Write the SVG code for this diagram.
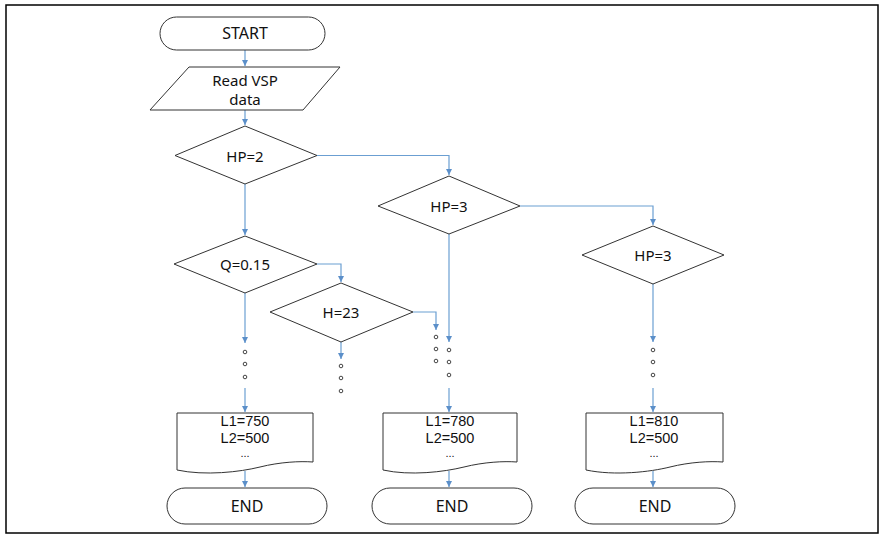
<svg xmlns="http://www.w3.org/2000/svg" width="882" height="539" viewBox="0 0 882 539">
<defs>
<marker id="ah" markerWidth="8" markerHeight="8" refX="6" refY="3" orient="auto" markerUnits="userSpaceOnUse">
<path d="M0,0 L6,3 L0,6 Z" fill="#5b8fc9"/>
</marker>
<style>
.sh{fill:#fff;stroke:#333;stroke-width:1}
.t{font-family:"Noto Sans","Liberation Sans",sans-serif;font-size:15px;fill:#111;text-anchor:middle;dominant-baseline:central}
.dt{font-family:"Liberation Sans","Noto Sans",sans-serif;font-size:14.5px}
.c{fill:none;stroke:#6b9fd2;stroke-width:1.2}
.a{marker-end:url(#ah)}
.d{fill:#fff;stroke:#444;stroke-width:1}
</style>
</defs>
<rect x="0" y="0" width="882" height="539" fill="#fff"/>
<rect x="6" y="5" width="872" height="528" fill="none" stroke="#000" stroke-width="1.5"/>

<g id="connectors">
<path class="c a" d="M245,50 V66"/>
<path class="c a" d="M245,110 V125"/>
<path class="c a" d="M317,155.5 H449 V175"/>
<path class="c a" d="M520,206 H653 V225"/>
<path class="c a" d="M245,184 V235"/>
<path class="c a" d="M317,264 H341 V282"/>
<path class="c a" d="M413,312 H436 V330"/>
<path class="c a" d="M341,342 V359"/>
<path class="c a" d="M245,293 V343"/>
<path class="c a" d="M449,234 V342"/>
<path class="c a" d="M653,284 V342"/>
<path class="c a" d="M245,388 V412"/>
<path class="c a" d="M449,388 V412"/>
<path class="c a" d="M653,388 V412"/>
<path class="c a" d="M245,471 V487"/>
<path class="c a" d="M449,471 V487"/>
<path class="c a" d="M653,471 V487"/>
</g>

<g id="dots">
<circle class="d" cx="245" cy="352" r="1.8"/><circle class="d" cx="245" cy="364" r="1.8"/><circle class="d" cx="245" cy="377" r="1.8"/>
<circle class="d" cx="341" cy="366" r="1.8"/><circle class="d" cx="341" cy="378" r="1.8"/><circle class="d" cx="341" cy="391" r="1.8"/>
<circle class="d" cx="436" cy="337" r="1.8"/><circle class="d" cx="436" cy="349" r="1.8"/><circle class="d" cx="436" cy="361" r="1.8"/>
<circle class="d" cx="449" cy="350" r="1.8"/><circle class="d" cx="449" cy="362" r="1.8"/><circle class="d" cx="449" cy="375" r="1.8"/>
<circle class="d" cx="653" cy="350" r="1.8"/><circle class="d" cx="653" cy="362" r="1.8"/><circle class="d" cx="653" cy="375" r="1.8"/>
</g>

<g id="start">
<rect class="sh" x="160" y="17" width="165" height="33" rx="16.5"/>
<text class="t" x="245" y="33" style="font-size:16px">START</text>
</g>
<g id="read">
<path class="sh" d="M189,67 H340 L303,110 H150 Z"/>
<text class="t" x="245" y="80">Read VSP</text>
<text class="t" x="245" y="99">data</text>
</g>
<g id="hp2">
<path class="sh" d="M245,126 L317,155.5 L245,184 L175,155.5 Z"/>
<text class="t" x="245" y="155.5">HP=2</text>
</g>
<g id="hp3a">
<path class="sh" d="M449,176 L520,206 L449,234 L378,206 Z"/>
<text class="t" x="449" y="206">HP=3</text>
</g>
<g id="hp3b">
<path class="sh" d="M653,226 L724,255 L653,284 L582,255 Z"/>
<text class="t" x="653" y="255">HP=3</text>
</g>
<g id="q">
<path class="sh" d="M245,236 L317,264 L245,293 L174,264 Z"/>
<text class="t" x="245" y="264">Q=0.15</text>
</g>
<g id="h">
<path class="sh" d="M341,283 L413,312 L341,342 L270,312 Z"/>
<text class="t" x="341" y="312">H=23</text>
</g>

<g id="doc1">
<path class="sh" d="M177,413 H313 V462 C300,461 280,462 260,467 C240,472 205,476 177,470 Z"/>
<text class="t dt" x="245" y="421">L1=750</text>
<text class="t dt" x="245" y="437.5">L2=500</text>
<text class="t dt" x="245" y="453" style="font-size:11px">...</text>
</g>
<g id="doc2">
<path class="sh" d="M383,413 H517 V462 C504,461 484,462 464,467 C444,472 410,476 383,470 Z"/>
<text class="t dt" x="450" y="421">L1=780</text>
<text class="t dt" x="450" y="437.5">L2=500</text>
<text class="t dt" x="450" y="453" style="font-size:11px">...</text>
</g>
<g id="doc3">
<path class="sh" d="M586,413 H723 V462 C710,461 690,462 670,467 C650,472 615,476 586,470 Z"/>
<text class="t dt" x="654" y="421">L1=810</text>
<text class="t dt" x="654" y="437.5">L2=500</text>
<text class="t dt" x="654" y="453" style="font-size:11px">...</text>
</g>

<g id="end1">
<rect class="sh" x="167" y="488" width="160" height="36" rx="18"/>
<text class="t" x="247" y="506" style="font-size:16px">END</text>
</g>
<g id="end2">
<rect class="sh" x="372" y="488" width="160" height="36" rx="18"/>
<text class="t" x="452" y="506" style="font-size:16px">END</text>
</g>
<g id="end3">
<rect class="sh" x="575" y="488" width="160" height="36" rx="18"/>
<text class="t" x="655" y="506" style="font-size:16px">END</text>
</g>
</svg>
